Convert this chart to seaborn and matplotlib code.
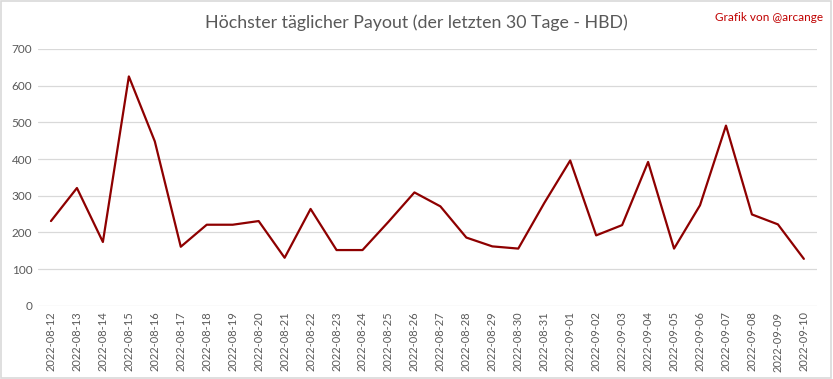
import matplotlib
matplotlib.use("Agg")
import matplotlib.pyplot as plt
import seaborn as sns
import pandas as pd
from matplotlib.patches import Rectangle

dates = ["2022-08-12", "2022-08-13", "2022-08-14", "2022-08-15", "2022-08-16",
         "2022-08-17", "2022-08-18", "2022-08-19", "2022-08-20", "2022-08-21",
         "2022-08-22", "2022-08-23", "2022-08-24", "2022-08-25", "2022-08-26",
         "2022-08-27", "2022-08-28", "2022-08-29", "2022-08-30", "2022-08-31",
         "2022-09-01", "2022-09-02", "2022-09-03", "2022-09-04", "2022-09-05",
         "2022-09-06", "2022-09-07", "2022-09-08", "2022-09-09", "2022-09-10"]
payout = [231, 321, 174, 625, 448, 161, 221, 221, 231, 131,
          264, 152, 152, 229, 309, 271, 186, 162, 156, 280,
          396, 192, 220, 392, 156, 274, 491, 249, 222, 128]
yticks = [0, 100, 200, 300, 400, 500, 600, 700]

sns.set_theme(style="white")
plt.rcParams['font.family'] = ['Lato', 'DejaVu Sans']

df = pd.DataFrame({"date": dates, "payout": payout})

fig = plt.figure(figsize=(8.33, 3.79), dpi=100)
ax = fig.add_axes([0.0456, 0.193, 0.935, 0.678])
sns.lineplot(data=df, x="date", y="payout", ax=ax, color="#8E0000",
             linewidth=1.6, sort=False)

ax.set_xlim(-0.5, len(dates) - 0.5)
ax.set_ylim(0, 700)
ax.set_yticks(yticks)
ax.set_yticklabels([str(v) for v in yticks], fontsize=8.5, color="#595959")
ax.set_xticks(range(len(dates)))
ax.set_xticklabels(dates, rotation=90, fontsize=8, color="#595959")
ax.tick_params(axis="both", length=0, pad=4)
ax.set_xlabel("")
ax.set_ylabel("")
ax.yaxis.grid(True, color="#D9D9D9", linewidth=0.9)
ax.set_axisbelow(True)
for s in ax.spines.values():
    s.set_visible(False)

fig.text(0.5, 0.94, "Höchster täglicher Payout (der letzten 30 Tage - HBD)",
         ha="center", va="center", fontsize=12.8, color="#595959")
fig.text(0.988, 0.955, "Grafik von @arcange", ha="right", va="center",
         fontsize=8.5, color="#C00000")
fig.patches.append(Rectangle((0.001, 0.002), 0.997, 0.995, transform=fig.transFigure,
                             fill=False, edgecolor="#D9D9D9", linewidth=1.2))

fig.savefig("out.png", dpi=100)
